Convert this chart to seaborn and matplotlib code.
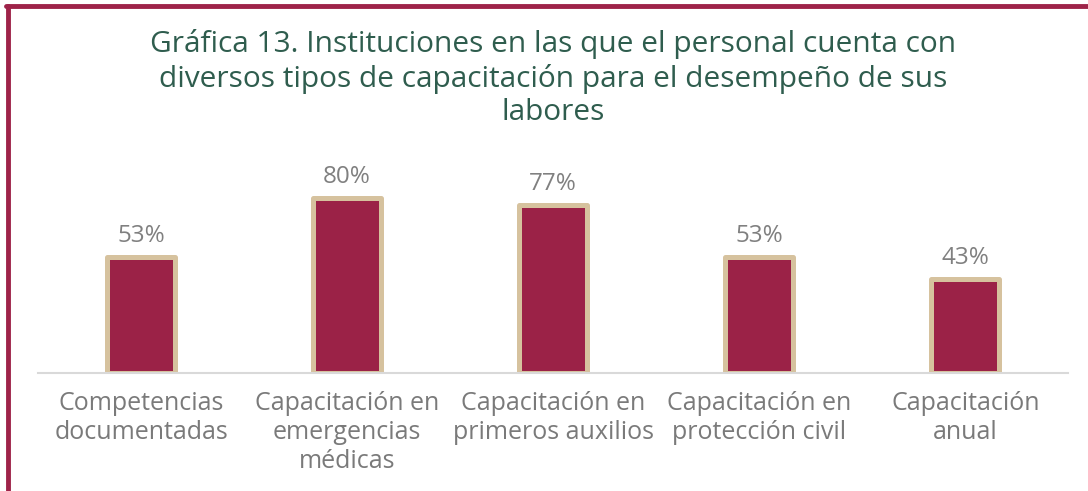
import pandas as pd
import matplotlib.pyplot as plt
import seaborn as sns

categorias = ['Competencias\ndocumentadas', 'Capacitación en\nemergencias\nmédicas',
              'Capacitación en\nprimeros auxilios', 'Capacitación en\nprotección civil',
              'Capacitación\nanual']
porcentajes = [53, 80, 77, 53, 43]

df = pd.DataFrame({'categoria': categorias, 'porcentaje': porcentajes})

sns.set_style('white')
plt.rcParams['font.family'] = ['Open Sans', 'DejaVu Sans']

fig = plt.figure(figsize=(10.88, 4.91), dpi=100)
ax = fig.add_axes([0.035, 0.240, 0.947, 0.455])

sns.barplot(data=df, x='categoria', y='porcentaje', color='#9b2247', width=0.33,
            edgecolor='#d6c29e', linewidth=3.6, saturation=1, ax=ax)
for p in ax.patches:
    p.set_joinstyle('round')

for i, v in enumerate(porcentajes):
    ax.text(i, v + 4, f'{v}%', ha='center', va='bottom', fontsize=17.5, color='#808080')

ax.set_xlim(-0.5, 4.5)
ax.set_ylim(0, 102)
ax.set_xlabel('')
ax.set_ylabel('')
ax.set_yticks([])
ax.tick_params(axis='x', length=0, labelsize=18, labelcolor='#7a7a7a', pad=13)
for lbl in ax.get_xticklabels():
    lbl.set_linespacing(1.2)
for s in ['top', 'right', 'left']:
    ax.spines[s].set_visible(False)
ax.spines['bottom'].set_color('#d9d9d9')
ax.spines['bottom'].set_linewidth(1.5)

fig.text(0.508, 0.94, 'Gráfica 13. Instituciones en las que el personal cuenta con\n'
         'diversos tipos de capacitación para el desempeño de sus\nlabores',
         ha='center', va='top', fontsize=21.5, color='#2f5d4e', linespacing=1.2)

# marco
fig.add_artist(plt.Line2D([0.0075, 0.0075], [0, 0.988], color='#9e2349', lw=3.5))
fig.add_artist(plt.Line2D([0.0055, 1.0], [0.988, 0.988], color='#9e2349', lw=3.5))

fig.savefig('out.png', dpi=100)
